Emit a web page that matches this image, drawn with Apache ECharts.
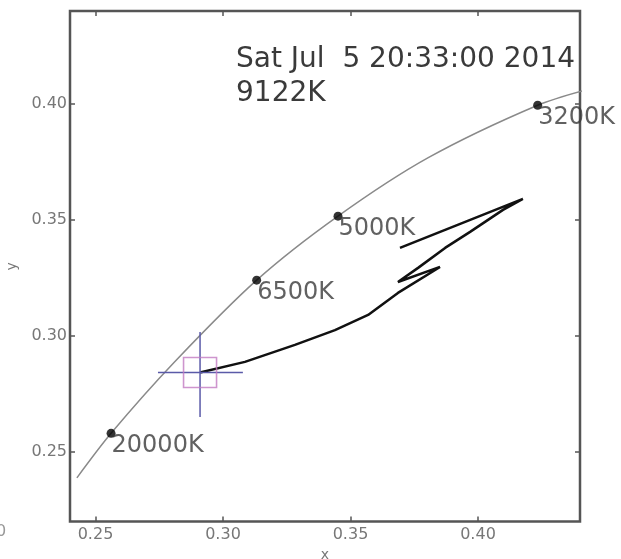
<!DOCTYPE html>
<html>

<head>
    <meta charset="utf-8">
    <title>CCT</title>
    <script type="text/javascript" src="https://cdn.jsdelivr.net/npm/echarts@6/dist/echarts.min.js"></script>
    <style>
        html, body { margin: 0; padding: 0; background: #fff; }
        #main { width: 621px; height: 559px; }
    </style>
</head>

<body>
    <div id="main"></div>
    <script type="text/javascript">
    // planckian locus (x, y)
    var locusX = [0.2427, 0.2561, 0.2807, 0.3132, 0.3451, 0.3805, 0.4234, 0.4443];
    var locusY = [0.2388, 0.2580, 0.2884, 0.3240, 0.3516, 0.3768, 0.3994, 0.4066];

    // reference temperatures on the locus
    var refNames = ['20000K', '6500K', '5000K', '3200K'];
    var refX = [0.2561, 0.3132, 0.3451, 0.4234];
    var refY = [0.2580, 0.3240, 0.3516, 0.3994];

    // measured chromaticity track
    var pathX = [0.2910, 0.3086, 0.3282, 0.3439, 0.3569, 0.3686, 0.3851, 0.3686, 0.3765, 0.3871, 0.3969, 0.4098, 0.4176, 0.3694];
    var pathY = [0.2842, 0.2888, 0.2961, 0.3025, 0.3090, 0.3185, 0.3297, 0.3232, 0.3293, 0.3379, 0.3448, 0.3543, 0.3590, 0.3379];

    // current reading, crosshair
    var current = [0.2910, 0.2842];
    var crossH = [[0.2745, 0.2842], [0.3078, 0.2842]];
    var crossV = [[0.2910, 0.2650], [0.2910, 0.3017]];

    var xTicks = [0.25, 0.30, 0.35, 0.40];
    var yTicks = [0.25, 0.30, 0.35, 0.40];
    var stamp = 'Sat Jul  5 20:33:00 2014';
    var cctText = '9122K';

    function zip(a, b) {
        return a.map(function(v, i) { return [v, b[i]]; });
    }

    var myChart = echarts.init(document.getElementById('main'));
    var font = 'DejaVu Sans';
    var fmt = function(v) { return v.toFixed(2); };

    var tickStyle = { show: true, inside: true, length: 5, lineStyle: { color: '#555', width: 1.5 } };

    option = {
        animation: false,
        backgroundColor: '#fff',
        grid: {
            left: 70, right: 41, top: 11, bottom: 37.5,
            outerBoundsMode: 'none', containLabel: false,
            show: true, borderColor: '#555', borderWidth: 2.5
        },
        xAxis: [{
            type: 'value', min: 0.24, max: 0.44,
            name: 'x', nameLocation: 'middle', nameGap: 27,
            nameTextStyle: { color: '#777', fontSize: 14, fontFamily: font },
            axisLine: { show: false },
            splitLine: { show: false },
            axisTick: Object.assign({ customValues: xTicks }, tickStyle),
            axisLabel: { customValues: xTicks, formatter: fmt, margin: 5, color: '#777', fontSize: 16, fontFamily: font }
        }, {
            type: 'value', min: 0.24, max: 0.44, position: 'top',
            axisLine: { show: false },
            splitLine: { show: false },
            axisTick: Object.assign({ customValues: xTicks }, tickStyle),
            axisLabel: { show: false }
        }],
        yAxis: [{
            type: 'value', min: 0.22, max: 0.44,
            name: 'y', nameLocation: 'middle', nameGap: 51,
            nameTextStyle: { color: '#777', fontSize: 14, fontFamily: font },
            axisLine: { show: false },
            splitLine: { show: false },
            axisTick: Object.assign({ customValues: yTicks }, tickStyle),
            axisLabel: { customValues: yTicks, formatter: fmt, margin: 3, color: '#777', fontSize: 16, fontFamily: font }
        }, {
            type: 'value', min: 0.22, max: 0.44, position: 'right',
            axisLine: { show: false },
            splitLine: { show: false },
            axisTick: Object.assign({ customValues: yTicks }, tickStyle),
            axisLabel: { show: false }
        }],
        graphic: [{
            type: 'text', left: 236, top: 43,
            style: { text: stamp + '\n' + cctText, font: '28px "DejaVu Sans"', lineHeight: 34, fill: '#3a3a3a' }
        }, {
            type: 'text', left: -4, top: 524,
            style: { text: '0', font: '16px "DejaVu Sans"', fill: '#999' }
        }],
        series: [{
            name: 'locus', type: 'line',
            data: zip(locusX, locusY),
            smooth: 0.3, symbol: 'none',
            lineStyle: { color: '#8a8a8a', width: 1.5 },
            z: 2
        }, {
            name: 'track', type: 'line',
            data: zip(pathX, pathY),
            symbol: 'none',
            lineStyle: { color: '#111', width: 2.5 },
            z: 3
        }, {
            name: 'crossH', type: 'line', data: crossH, symbol: 'none',
            lineStyle: { color: '#5a5aa8', width: 1.5 }, z: 4
        }, {
            name: 'crossV', type: 'line', data: crossV, symbol: 'none',
            lineStyle: { color: '#5a5aa8', width: 1.5 }, z: 4
        }, {
            name: 'current', type: 'scatter', data: [current],
            symbol: 'rect', symbolSize: [33, 30],
            itemStyle: { color: 'transparent', borderColor: '#c27ac2', borderWidth: 1.5 },
            z: 4
        }, {
            name: 'refs', type: 'scatter',
            data: refNames.map(function(n, i) { return { name: n, value: [refX[i], refY[i]] }; }),
            symbolSize: 9,
            itemStyle: { color: '#000' },
            label: {
                show: true, formatter: '{b}', position: [5, 5],
                align: 'left', verticalAlign: 'top',
                color: '#3a3a3a', fontSize: 24, fontFamily: font
            },
            z: 5
        }]
    };

    myChart.setOption(option);
    </script>
</body>

</html>
